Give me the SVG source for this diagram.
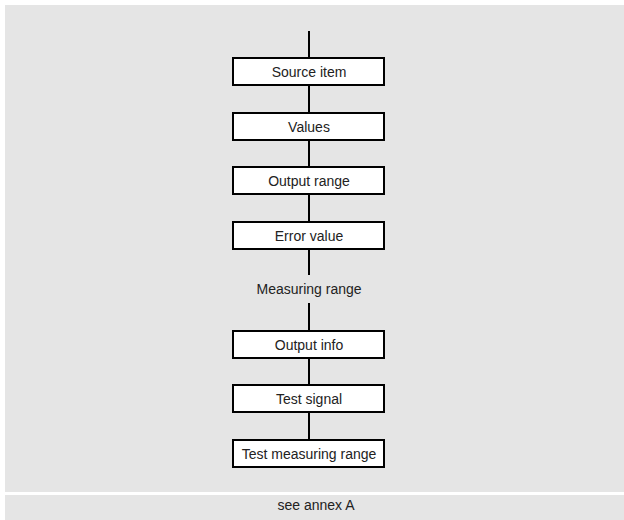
<svg xmlns="http://www.w3.org/2000/svg" width="624" height="520" viewBox="0 0 624 520">
<style>
.bg{fill:#e5e5e5}
.box rect{fill:#fff;stroke:#000;stroke-width:2}
text{font-family:"Liberation Sans",Arial,sans-serif;font-size:14px;fill:#222;text-anchor:middle;dominant-baseline:central}
.conn line{stroke:#000;stroke-width:2}
</style>
<rect width="624" height="520" fill="#fff"/>
<rect class="bg" x="5" y="5" width="619" height="487"/>
<rect class="bg" x="5" y="495" width="619" height="25"/>
<g class="conn">
<line x1="309" y1="31" x2="309" y2="58"/>
<line x1="309" y1="85" x2="309" y2="113"/>
<line x1="309" y1="140" x2="309" y2="167"/>
<line x1="309" y1="194" x2="309" y2="222"/>
<line x1="309" y1="249" x2="309" y2="275"/>
<line x1="309" y1="303" x2="309" y2="331"/>
<line x1="309" y1="358" x2="309" y2="385"/>
<line x1="309" y1="412" x2="309" y2="440"/>
</g>
<g id="n1" class="box"><rect x="233" y="58" width="151" height="27"/><text x="309" y="72">Source item</text></g>
<g id="n2" class="box"><rect x="233" y="113" width="151" height="27"/><text x="309" y="127">Values</text></g>
<g id="n3" class="box"><rect x="233" y="167" width="151" height="27"/><text x="309" y="181">Output range</text></g>
<g id="n4" class="box"><rect x="233" y="222" width="151" height="27"/><text x="309" y="236">Error value</text></g>
<g id="n5"><text x="309" y="289">Measuring range</text></g>
<g id="n6" class="box"><rect x="233" y="331" width="151" height="27"/><text x="309" y="345">Output info</text></g>
<g id="n7" class="box"><rect x="233" y="385" width="151" height="27"/><text x="309" y="399">Test signal</text></g>
<g id="n8" class="box"><rect x="233" y="440" width="151" height="27"/><text x="309" y="454">Test measuring range</text></g>
<g id="footer"><text x="316" y="505">see annex A</text></g>
</svg>
